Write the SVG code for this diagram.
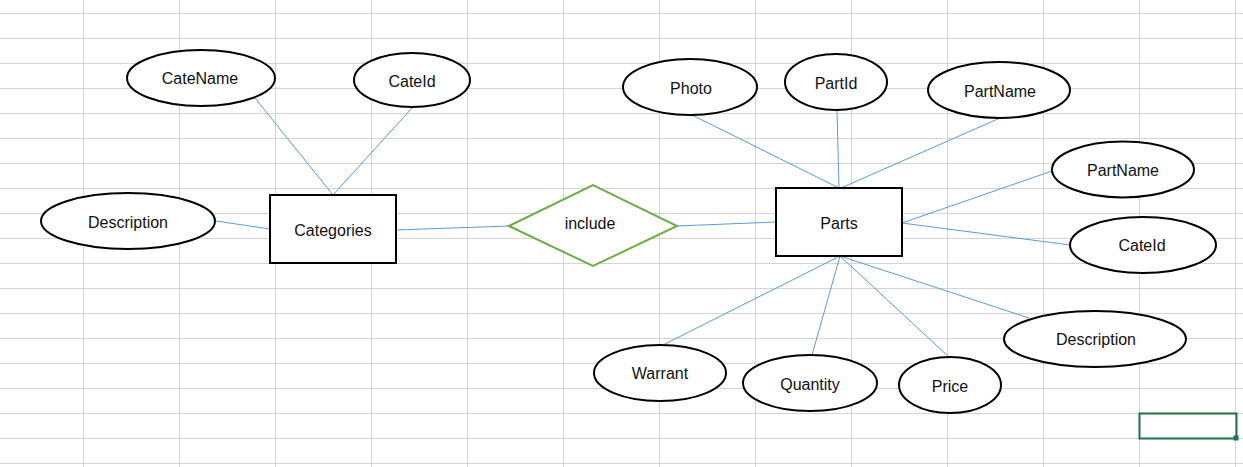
<svg xmlns="http://www.w3.org/2000/svg" width="1243" height="467" viewBox="0 0 1243 467">
<style>
.grid line{stroke:#d4d4d4;stroke-width:1}
.attr ellipse,.ent rect{fill:#fff;stroke:#000;stroke-width:2}
.rel polygon{fill:#fff;stroke:#70ad47;stroke-width:2}
.conn line{stroke:#5b9bd5;stroke-width:1}
text{font-family:"Liberation Sans",Arial,sans-serif;font-size:16px;fill:#111;text-anchor:middle;dominant-baseline:central}
</style>
<rect width="1243" height="467" fill="#fff"/>
<g class="grid">
<line x1="0" y1="13.5" x2="1243" y2="13.5"/><line x1="0" y1="38.5" x2="1243" y2="38.5"/><line x1="0" y1="63.5" x2="1243" y2="63.5"/><line x1="0" y1="88.5" x2="1243" y2="88.5"/><line x1="0" y1="113.5" x2="1243" y2="113.5"/><line x1="0" y1="138.5" x2="1243" y2="138.5"/><line x1="0" y1="163.5" x2="1243" y2="163.5"/><line x1="0" y1="188.5" x2="1243" y2="188.5"/><line x1="0" y1="213.5" x2="1243" y2="213.5"/><line x1="0" y1="238.5" x2="1243" y2="238.5"/><line x1="0" y1="263.5" x2="1243" y2="263.5"/><line x1="0" y1="288.5" x2="1243" y2="288.5"/><line x1="0" y1="313.5" x2="1243" y2="313.5"/><line x1="0" y1="338.5" x2="1243" y2="338.5"/><line x1="0" y1="363.5" x2="1243" y2="363.5"/><line x1="0" y1="388.5" x2="1243" y2="388.5"/><line x1="0" y1="413.5" x2="1243" y2="413.5"/><line x1="0" y1="438.5" x2="1243" y2="438.5"/><line x1="0" y1="463.5" x2="1243" y2="463.5"/>
<line x1="83.5" y1="0" x2="83.5" y2="467"/><line x1="179.5" y1="0" x2="179.5" y2="467"/><line x1="275.5" y1="0" x2="275.5" y2="467"/><line x1="371.5" y1="0" x2="371.5" y2="467"/><line x1="467.5" y1="0" x2="467.5" y2="467"/><line x1="563.5" y1="0" x2="563.5" y2="467"/><line x1="659.5" y1="0" x2="659.5" y2="467"/><line x1="755.5" y1="0" x2="755.5" y2="467"/><line x1="851.5" y1="0" x2="851.5" y2="467"/><line x1="947.5" y1="0" x2="947.5" y2="467"/><line x1="1043.5" y1="0" x2="1043.5" y2="467"/><line x1="1139.5" y1="0" x2="1139.5" y2="467"/><line x1="1235.5" y1="0" x2="1235.5" y2="467"/>
</g>
<g id="selection">
<rect x="1139.5" y="413.5" width="97" height="25" fill="none" stroke="#217346" stroke-width="2"/>
<rect x="1233.5" y="435.5" width="5" height="5" fill="#217346"/>
</g>
<g class="conn" id="connectors">
<line x1="255" y1="98" x2="333" y2="195"/>
<line x1="412" y1="108" x2="333" y2="195"/>
<line x1="216" y1="221" x2="270" y2="229"/>
<line x1="396" y1="230" x2="509" y2="226"/>
<line x1="677" y1="226" x2="776" y2="222"/>
<line x1="692" y1="115" x2="839" y2="188"/>
<line x1="837" y1="110" x2="839" y2="188"/>
<line x1="1000" y1="118" x2="841" y2="188"/>
<line x1="1052" y1="171" x2="902" y2="223"/>
<line x1="902" y1="223" x2="1070" y2="245"/>
<line x1="840" y1="256" x2="663" y2="345"/>
<line x1="840" y1="256" x2="812" y2="355"/>
<line x1="840" y1="256" x2="949" y2="357"/>
<line x1="840" y1="256" x2="1029" y2="318"/>
</g>
<g class="attr" id="cat-catename"><ellipse cx="201" cy="78" rx="74" ry="28"/><text x="200" y="78">CateName</text></g>
<g class="attr" id="cat-cateid"><ellipse cx="412" cy="80" rx="58" ry="27"/><text x="412" y="81">CateId</text></g>
<g class="attr" id="cat-description"><ellipse cx="128" cy="221" rx="87" ry="28"/><text x="128" y="222">Description</text></g>
<g class="ent" id="categories"><rect x="270" y="195" width="126" height="68"/><text x="333" y="230">Categories</text></g>
<g class="rel" id="include"><polygon points="509,226 593,185 677,226 593,266"/><text x="590" y="223">include</text></g>
<g class="ent" id="parts"><rect x="776" y="188" width="126" height="68"/><text x="839" y="223">Parts</text></g>
<g class="attr" id="part-photo"><ellipse cx="690" cy="87" rx="67" ry="28"/><text x="691" y="88">Photo</text></g>
<g class="attr" id="part-partid"><ellipse cx="836" cy="82" rx="51" ry="28"/><text x="836" y="83">PartId</text></g>
<g class="attr" id="part-partname1"><ellipse cx="999" cy="90" rx="71" ry="28"/><text x="1000" y="91">PartName</text></g>
<g class="attr" id="part-partname2"><ellipse cx="1123" cy="169.5" rx="71" ry="28"/><text x="1123" y="170">PartName</text></g>
<g class="attr" id="part-cateid"><ellipse cx="1143" cy="245" rx="73" ry="28"/><text x="1142" y="245">CateId</text></g>
<g class="attr" id="part-warrant"><ellipse cx="660" cy="373" rx="66" ry="28"/><text x="660" y="373">Warrant</text></g>
<g class="attr" id="part-quantity"><ellipse cx="810" cy="383" rx="67" ry="28"/><text x="810" y="384">Quantity</text></g>
<g class="attr" id="part-price"><ellipse cx="950" cy="385" rx="51" ry="28"/><text x="950" y="386">Price</text></g>
<g class="attr" id="part-description"><ellipse cx="1095" cy="339" rx="91" ry="28"/><text x="1096" y="339">Description</text></g>
</svg>
